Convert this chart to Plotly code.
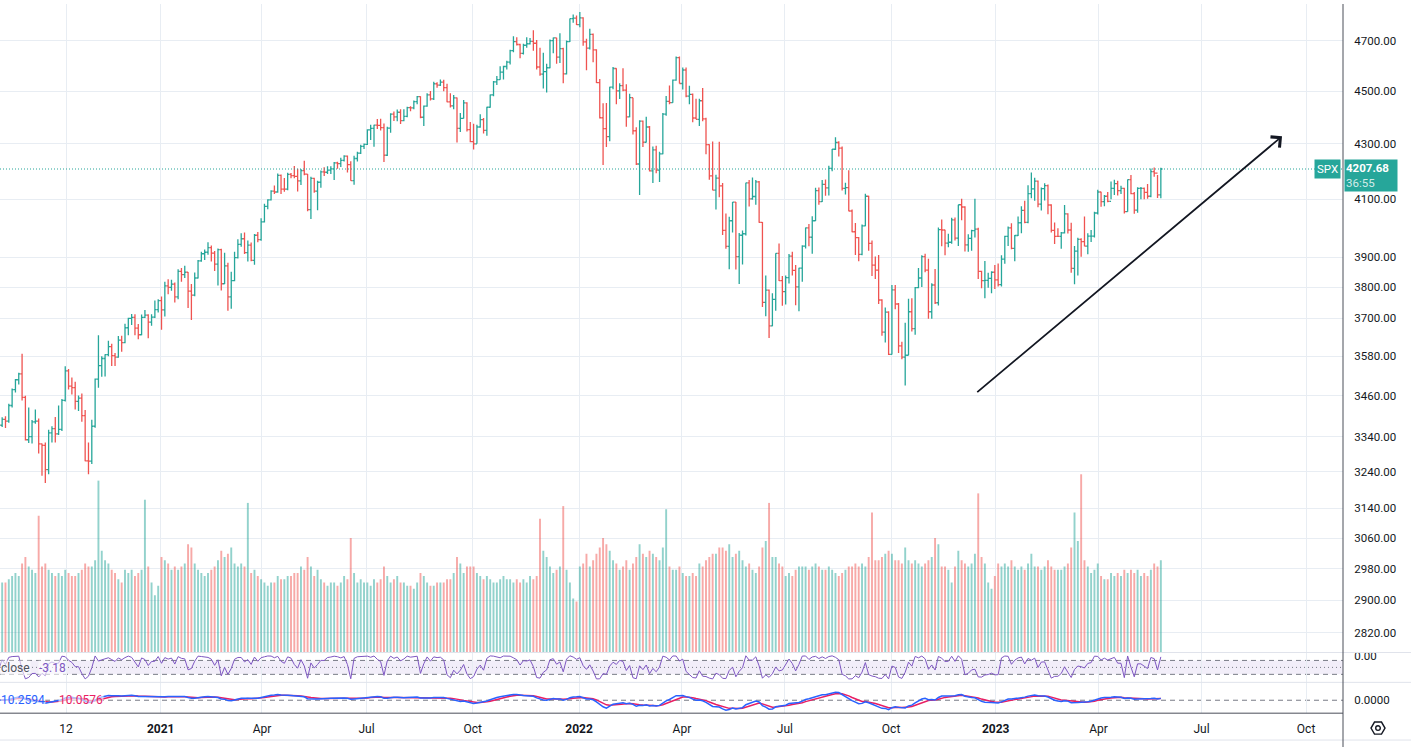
import math
import numpy as np
import pandas as pd
import plotly.graph_objects as go

W, H = 1411, 747

# ---------------- data: S&P 500 (SPX), 2-trading-day OHLC bars, Aug 13 2020 -> May 26 2023 ----------------
bar_open = [
    3380, 3373, 3390, 3385, 3431, 3478, 3508, 3526, 3455, 3331,
    3340, 3383, 3385, 3319, 3315, 3246, 3351, 3363, 3348, 3361,
    3446, 3535, 3489, 3484, 3443, 3453, 3401, 3271, 3270, 3370,
    3510, 3551, 3573, 3585, 3610, 3582, 3577, 3630, 3622, 3669,
    3699, 3702, 3668, 3647, 3702, 3709, 3687, 3703, 3727, 3756,
    3726, 3804, 3799, 3810, 3768, 3852, 3841, 3849, 3787, 3774,
    3830, 3887, 3911, 3916, 3932, 3913, 3876, 3925, 3811, 3870,
    3768, 3821, 3898, 3943, 3962, 3915, 3940, 3889, 3974, 3959,
    4020, 4074, 4097, 4128, 4125, 4185, 4135, 4135, 4188, 4184,
    4181, 4165, 4202, 4189, 4063, 4174, 4128, 4160, 4197, 4196,
    4204, 4208, 4230, 4227, 4239, 4255, 4224, 4166, 4246, 4266,
    4291, 4298, 4352, 4358, 4370, 4369, 4361, 4258, 4359, 4412,
    4401, 4419, 4387, 4403, 4437, 4436, 4460, 4479, 4400, 4442,
    4486, 4470, 4529, 4524, 4535, 4514, 4459, 4443, 4474, 4358,
    4396, 4455, 4353, 4308, 4300, 4363, 4391, 4350, 4438, 4486,
    4536, 4545, 4575, 4597, 4614, 4660, 4697, 4685, 4649, 4682,
    4688, 4698, 4690, 4595, 4567, 4577, 4592, 4701, 4712, 4634,
    4668, 4568, 4697, 4791, 4793, 4766, 4794, 4696, 4670, 4726,
    4663, 4533, 4398, 4357, 4327, 4516, 4589, 4501, 4522, 4504,
    4401, 4475, 4349, 4226, 4385, 4306, 4363, 4201, 4278, 4204,
    4263, 4412, 4461, 4456, 4543, 4632, 4530, 4583, 4481, 4488,
    4397, 4392, 4463, 4394, 4297, 4183, 4132, 4175, 4147, 3991,
    3936, 4024, 4089, 3901, 3974, 3979, 4158, 4101, 4109, 4161,
    4018, 3750, 3790, 3675, 3760, 3912, 3821, 3785, 3831, 3903,
    3855, 3801, 3863, 3937, 3999, 3967, 4024, 4130, 4091, 4152,
    4140, 4210, 4280, 4305, 4284, 4138, 4141, 4058, 3986, 3966,
    3909, 4006, 4110, 3946, 3873, 3856, 3758, 3655, 3719, 3586,
    3791, 3745, 3612, 3577, 3583, 3720, 3666, 3798, 3830, 3901,
    3856, 3720, 3807, 3749, 3993, 3992, 3947, 3950, 4027, 3964,
    4080, 4072, 3941, 3963, 3990, 3995, 3852, 3821, 3822, 3829,
    3849, 3824, 3808, 3893, 3970, 3999, 3929, 3973, 4017, 4060,
    4018, 4119, 4136, 4164, 4082, 4137, 4148, 4079, 3991, 3970,
    3970, 3982, 4048, 3992, 3862, 3920, 3960, 3952, 3937, 3971,
    3971, 4051, 4125, 4091, 4110, 4092, 4138, 4155, 4130, 4138,
    4056, 4169, 4119, 4061, 4138, 4138, 4124, 4110, 4198, 4193,
    4115,
]
bar_high = [
    3388, 3396, 3399, 3436, 3482, 3510, 3529, 3588, 3460, 3425,
    3388, 3419, 3393, 3320, 3323, 3360, 3370, 3397, 3431, 3450,
    3549, 3541, 3515, 3502, 3461, 3467, 3418, 3323, 3389, 3512,
    3645, 3580, 3586, 3628, 3619, 3590, 3643, 3644, 3682, 3701,
    3713, 3712, 3681, 3711, 3726, 3712, 3712, 3756, 3760, 3769,
    3818, 3826, 3824, 3815, 3859, 3863, 3871, 3850, 3810, 3848,
    3890, 3918, 3925, 3950, 3939, 3920, 3929, 3928, 3914, 3881,
    3851, 3918, 3960, 3981, 3983, 3956, 3949, 3978, 3985, 4033,
    4083, 4099, 4131, 4148, 4191, 4188, 4175, 4194, 4193, 4219,
    4209, 4208, 4238, 4190, 4180, 4176, 4165, 4202, 4214, 4218,
    4218, 4233, 4234, 4249, 4258, 4257, 4236, 4256, 4271, 4297,
    4301, 4355, 4372, 4372, 4393, 4394, 4376, 4364, 4415, 4422,
    4429, 4430, 4430, 4440, 4442, 4464, 4481, 4480, 4445, 4492,
    4501, 4537, 4535, 4546, 4545, 4529, 4492, 4485, 4476, 4416,
    4466, 4457, 4382, 4375, 4372, 4411, 4397, 4440, 4487, 4540,
    4559, 4598, 4600, 4620, 4664, 4718, 4714, 4688, 4688, 4714,
    4711, 4743, 4703, 4672, 4652, 4608, 4705, 4713, 4712, 4731,
    4672, 4701, 4791, 4808, 4804, 4818, 4797, 4708, 4749, 4730,
    4666, 4548, 4453, 4454, 4517, 4595, 4590, 4531, 4590, 4527,
    4490, 4475, 4362, 4389, 4388, 4402, 4367, 4290, 4293, 4271,
    4416, 4481, 4522, 4546, 4637, 4637, 4593, 4593, 4521, 4491,
    4471, 4471, 4512, 4398, 4299, 4309, 4187, 4308, 4157, 4049,
    4038, 4090, 4090, 3982, 3990, 4158, 4168, 4177, 4168, 4164,
    4020, 3838, 3792, 3780, 3913, 3946, 3837, 3838, 3910, 3918,
    3873, 3864, 3940, 4001, 4013, 4040, 4140, 4141, 4168, 4170,
    4220, 4281, 4325, 4310, 4290, 4158, 4203, 4063, 4016, 3968,
    4011, 4119, 4112, 3956, 3902, 3907, 3760, 3734, 3722, 3807,
    3807, 3748, 3625, 3685, 3762, 3764, 3800, 3863, 3906, 3911,
    3894, 3813, 3860, 4001, 4028, 3993, 3979, 4034, 4035, 4080,
    4101, 4075, 3977, 3993, 4101, 4000, 3854, 3887, 3847, 3852,
    3873, 3878, 3906, 3972, 4004, 4015, 3975, 4039, 4075, 4094,
    4149, 4195, 4176, 4166, 4141, 4156, 4152, 4082, 4018, 3998,
    3985, 4079, 4050, 4017, 3937, 3965, 3964, 4039, 3981, 3992,
    4055, 4133, 4126, 4114, 4125, 4163, 4169, 4165, 4147, 4140,
    4170, 4186, 4125, 4142, 4143, 4141, 4154, 4210, 4213, 4186,
    4212,
]
bar_low = [
    3362, 3368, 3365, 3380, 3425, 3470, 3494, 3446, 3329, 3322,
    3320, 3377, 3292, 3229, 3209, 3233, 3323, 3323, 3345, 3356,
    3443, 3479, 3464, 3419, 3415, 3383, 3270, 3233, 3262, 3366,
    3484, 3517, 3518, 3580, 3550, 3550, 3575, 3594, 3620, 3645,
    3678, 3645, 3633, 3645, 3700, 3636, 3675, 3700, 3718, 3663,
    3705, 3777, 3788, 3750, 3760, 3818, 3830, 3732, 3694, 3770,
    3828, 3884, 3890, 3908, 3885, 3853, 3805, 3789, 3810, 3723,
    3730, 3819, 3895, 3935, 3910, 3885, 3886, 3874, 3950, 3955,
    4018, 4064, 4095, 4118, 4122, 4118, 4126, 4131, 4174, 4174,
    4127, 4150, 4185, 4057, 4030, 4122, 4061, 4140, 4182, 4190,
    4190, 4168, 4209, 4215, 4235, 4195, 4165, 4151, 4235, 4263,
    4281, 4296, 4314, 4289, 4356, 4350, 4233, 4255, 4341, 4386,
    4385, 4374, 4385, 4400, 4423, 4430, 4450, 4396, 4367, 4440,
    4464, 4466, 4513, 4520, 4500, 4457, 4437, 4430, 4305, 4344,
    4395, 4346, 4306, 4279, 4300, 4360, 4339, 4330, 4436, 4480,
    4524, 4545, 4546, 4585, 4605, 4654, 4681, 4630, 4645, 4672,
    4685, 4660, 4585, 4560, 4510, 4495, 4590, 4650, 4608, 4611,
    4531, 4565, 4695, 4774, 4765, 4755, 4680, 4582, 4665, 4614,
    4532, 4395, 4222, 4288, 4310, 4508, 4450, 4470, 4500, 4364,
    4400, 4335, 4222, 4114, 4288, 4305, 4199, 4157, 4192, 4161,
    4262, 4406, 4450, 4455, 4541, 4530, 4507, 4477, 4450, 4381,
    4392, 4367, 4385, 4262, 4169, 4131, 4063, 4106, 3975, 3928,
    3859, 3983, 3858, 3810, 3875, 3973, 4074, 4098, 4080, 4017,
    3735, 3706, 3637, 3674, 3723, 3820, 3739, 3743, 3812, 3838,
    3741, 3722, 3818, 3929, 3936, 3911, 4023, 4080, 4090, 4112,
    4113, 4200, 4277, 4253, 4130, 4116, 4057, 3984, 3907, 3886,
    3906, 4005, 3921, 3837, 3827, 3745, 3644, 3623, 3584, 3585,
    3728, 3590, 3571, 3491, 3583, 3657, 3647, 3796, 3800, 3849,
    3698, 3698, 3745, 3740, 3936, 3906, 3933, 3945, 3956, 3937,
    4026, 3919, 3918, 3921, 3966, 3827, 3796, 3764, 3798, 3780,
    3794, 3802, 3802, 3877, 3937, 3926, 3886, 3971, 3981, 4015,
    4015, 4103, 4094, 4071, 4060, 4095, 4047, 3983, 3944, 3968,
    3928, 3980, 3980, 3847, 3809, 3838, 3901, 3936, 3909, 3951,
    3966, 4046, 4073, 4075, 4089, 4099, 4114, 4113, 4118, 4049,
    4055, 4117, 4048, 4052, 4099, 4099, 4101, 4106, 4180, 4104,
    4103,
]
bar_close = [
    3373, 3390, 3385, 3431, 3478, 3508, 3526, 3455, 3331, 3340,
    3383, 3385, 3319, 3315, 3246, 3351, 3363, 3348, 3361, 3446,
    3535, 3489, 3484, 3443, 3453, 3401, 3271, 3270, 3370, 3510,
    3551, 3573, 3585, 3610, 3582, 3577, 3630, 3622, 3669, 3699,
    3702, 3668, 3647, 3702, 3709, 3687, 3703, 3727, 3756, 3726,
    3804, 3799, 3810, 3768, 3852, 3841, 3849, 3787, 3774, 3830,
    3887, 3911, 3916, 3932, 3913, 3876, 3925, 3811, 3870, 3768,
    3821, 3898, 3943, 3962, 3915, 3940, 3889, 3974, 3959, 4020,
    4074, 4097, 4128, 4125, 4185, 4135, 4135, 4188, 4184, 4181,
    4165, 4202, 4189, 4063, 4174, 4128, 4160, 4197, 4196, 4204,
    4208, 4230, 4227, 4239, 4255, 4224, 4166, 4246, 4266, 4291,
    4298, 4352, 4358, 4370, 4369, 4361, 4258, 4359, 4412, 4401,
    4419, 4387, 4403, 4437, 4436, 4460, 4479, 4400, 4442, 4486,
    4470, 4529, 4524, 4535, 4514, 4459, 4443, 4474, 4358, 4396,
    4455, 4353, 4308, 4300, 4363, 4391, 4350, 4438, 4486, 4536,
    4545, 4575, 4597, 4614, 4660, 4697, 4685, 4649, 4682, 4688,
    4698, 4690, 4595, 4567, 4577, 4592, 4701, 4712, 4634, 4668,
    4568, 4697, 4791, 4793, 4766, 4794, 4696, 4670, 4726, 4663,
    4533, 4398, 4357, 4327, 4516, 4589, 4501, 4522, 4504, 4401,
    4475, 4349, 4226, 4385, 4306, 4363, 4201, 4278, 4204, 4263,
    4412, 4461, 4456, 4543, 4632, 4530, 4583, 4481, 4488, 4397,
    4392, 4463, 4394, 4297, 4183, 4132, 4175, 4147, 3991, 3936,
    4024, 4089, 3901, 3974, 3979, 4158, 4101, 4109, 4161, 4018,
    3750, 3790, 3675, 3760, 3912, 3821, 3785, 3831, 3903, 3855,
    3801, 3863, 3937, 3999, 3967, 4024, 4130, 4091, 4152, 4140,
    4210, 4280, 4305, 4284, 4138, 4141, 4058, 3986, 3966, 3909,
    4006, 4110, 3946, 3873, 3856, 3758, 3655, 3719, 3586, 3791,
    3745, 3612, 3577, 3583, 3720, 3666, 3798, 3830, 3901, 3856,
    3720, 3807, 3749, 3993, 3992, 3947, 3950, 4027, 3964, 4080,
    4072, 3941, 3963, 3990, 3995, 3852, 3821, 3822, 3829, 3849,
    3824, 3808, 3893, 3970, 3999, 3929, 3973, 4017, 4060, 4018,
    4119, 4136, 4164, 4082, 4137, 4148, 4079, 3991, 3970, 3970,
    3982, 4048, 3992, 3862, 3920, 3960, 3952, 3937, 3971, 3971,
    4051, 4125, 4091, 4110, 4092, 4138, 4155, 4130, 4138, 4056,
    4169, 4119, 4061, 4138, 4138, 4124, 4110, 4198, 4193, 4115,
    4207.68,
]
# volume per bar (hundreds of millions of shares)
bar_volume = [
    23, 22, 22, 23, 24, 25, 24, 28, 30, 27, 26, 25, 43,
    27, 28, 26, 25, 24, 25, 24, 26, 25, 24, 24, 25, 26, 28, 27,
    27, 29, 54, 32, 29, 28, 26, 25, 23, 22,
    26, 25, 26, 24, 25, 26, 48, 27, 22, 18, 21,
    30, 29, 28, 26, 27, 26, 27, 28, 34, 33,
    28, 26, 25, 24, 25, 26, 27, 29, 32,
    30, 31, 33, 28, 27, 28, 27, 47, 25, 26, 24,
    23, 22, 21, 22, 22, 24, 23, 23, 24, 24, 25,
    25, 27, 26, 30, 27, 24, 26, 23, 22, 21,
    22, 22, 21, 22, 24, 23, 36, 25, 22, 23, 22,
    22, 21, 23, 22, 23, 27, 24, 22, 23, 24, 22,
    22, 21, 21, 20, 22, 25, 24, 22, 21, 21, 22,
    22, 22, 23, 23, 25, 30, 28, 25, 27, 27,
    27, 25, 24, 23, 24, 23, 22, 22, 23, 24, 23,
    23, 22, 23, 22, 23, 22, 24, 23, 24, 42,
    32, 30, 27, 25, 26, 27, 46, 26, 22, 17, 16,
    27, 28, 31, 27, 29, 31, 33, 36, 34, 32,
    29, 28, 26, 27, 29, 26, 28, 30, 34,
    31, 30, 32, 31, 30, 29, 33, 45, 27, 26, 26, 27,
    25, 24, 24, 25, 24, 28, 27, 29, 30, 31,
    31, 33, 33, 32, 34, 30, 31, 32, 29, 27, 28,
    26, 25, 27, 33, 35, 47, 30, 30, 28, 27,
    24, 25, 24, 26, 27, 27, 27, 26, 27, 28,
    27, 26, 26, 27, 26, 25, 24, 25, 26, 27, 27, 28,
    27, 28, 27, 30, 44, 29, 29, 30, 31, 32,
    31, 29, 29, 28, 33, 29, 28, 29, 28, 27, 28,
    29, 30, 36, 34, 27, 27, 26, 22, 27, 32,
    29, 28, 27, 28, 31, 50, 30, 28, 22, 20, 24,
    28, 27, 28, 27, 29, 27, 26, 27, 26, 28,
    31, 27, 27, 26, 27, 29, 27, 26, 26,
    26, 27, 28, 33, 44, 35, 56, 29, 27, 25, 26, 28,
    24, 23, 23, 25, 24, 25, 24, 26, 25,
    26, 25, 26, 24, 25, 24, 26, 28, 27, 29,
]
days_per_bar = 2

# axis ticks / labels
price_ticks = [4700, 4500, 4300, 4100, 3900, 3800, 3700, 3580, 3460, 3340,
               3240, 3140, 3060, 2980, 2900, 2820]
time_tick_day = [41, 98, 159, 222, 286, 350, 412, 474, 538, 601, 663, 725, 788]
time_tick_text = ["12", "<b>2021</b>", "Apr", "Jul", "Oct", "<b>2022</b>", "Apr",
                  "Jul", "Oct", "<b>2023</b>", "Apr", "Jul", "Oct"]

last_price = 4207.68
last_price_text = "4207.68"
countdown_text = "36:55"
wr_legend_value = "-3.18"
macd_legend_value = "10.2594"
signal_legend_value = "10.0576"

# trend arrow drawing (trading-day index, price)
arrow_start = (589.0, 3467.0)
arrow_end = (773.5, 4328.0)

# ---------------- derived series ----------------
n = len(bar_close)
bar_x = np.arange(n) * days_per_bar + 0.5
c = pd.Series(bar_close, dtype=float)
hi = pd.Series(bar_high, dtype=float)
lo = pd.Series(bar_low, dtype=float)

look = 7
hh = hi.rolling(look, min_periods=1).max()
ll = lo.rolling(look, min_periods=1).min()
willr = (hh - c) / (hh - ll) * -100.0

ema_fast = c.ewm(span=6, adjust=False).mean()
ema_slow = c.ewm(span=13, adjust=False).mean()
macd = ema_fast - ema_slow
signal = macd.ewm(span=5, adjust=False).mean()

UP = "#26a69a"
DN = "#ef5350"
vol_colors = ["rgba(38,166,154,0.5)" if cc >= oo else "rgba(239,83,80,0.5)"
              for cc, oo in zip(bar_close, bar_open)]

# ---------------- geometry helpers ----------------
def fx(px):
    return px / W


def fy(py):
    return 1 - py / H


AXIS_X = 1343
X_RANGE = [1.2, 1.2 + AXIS_X / 1.66]
MAIN_TOP, MAIN_BOT = 0, 652
WR_BOT = 682
MACD_BOT = 713
GRID = "#e8edf3"
TXT = "#131722"
FONT = "Roboto"

# price axis (log) so that 4700 sits at y=37 px, ~1165 px per ln-unit
k_ln = 1165.0
p_top = 4700 * math.exp(37 / k_ln)
p_bot = 4700 * math.exp(-(MAIN_BOT - 37) / k_ln)

vol_per_px = 1 / 3.2
vol_range = [0, (MAIN_BOT - MAIN_TOP) * vol_per_px]

wr_zero_px = 655.3
wr_px_per_unit = 14 / 60
wr_range = [-(WR_BOT - wr_zero_px) / wr_px_per_unit, (wr_zero_px - MAIN_BOT) / wr_px_per_unit]

macd_zero_px = 700
m_hi = float(max(macd.max(), signal.max()))
m_lo = float(min(macd.min(), signal.min()))
s = min(13.0 / m_hi, 10.0 / abs(m_lo))
macd_range = [-(MACD_BOT - macd_zero_px) / s, (macd_zero_px - WR_BOT) / s]

fig = go.Figure()

fig.add_trace(go.Bar(x=bar_x, y=bar_volume, width=1.15, marker_color=vol_colors,
                     marker_line_width=0, yaxis="y", hoverinfo="skip"))
fig.add_trace(go.Ohlc(x=bar_x, open=bar_open, high=bar_high, low=bar_low, close=bar_close,
                      increasing_line_color=UP, decreasing_line_color=DN,
                      line_width=1.3, tickwidth=0.5, yaxis="y2", hoverinfo="skip"))
fig.add_trace(go.Scatter(x=bar_x, y=willr, mode="lines", line=dict(color="#7e57c2", width=1),
                         yaxis="y3", hoverinfo="skip"))
fig.add_trace(go.Scatter(x=bar_x, y=signal, mode="lines", line=dict(color="#e91e63", width=1.5),
                         yaxis="y4", hoverinfo="skip"))
fig.add_trace(go.Scatter(x=bar_x, y=macd, mode="lines", line=dict(color="#2962ff", width=1.5),
                         yaxis="y4", hoverinfo="skip"))

tickfont = dict(family=FONT, size=11.5, color=TXT)

fig.update_layout(
    width=W, height=H, margin=dict(l=0, r=0, t=0, b=0),
    paper_bgcolor="white", plot_bgcolor="white",
    showlegend=False, hovermode=False,
    xaxis=dict(domain=[0, fx(AXIS_X)], range=X_RANGE, anchor="y4",
               tickmode="array", tickvals=time_tick_day, ticktext=time_tick_text,
               showgrid=True, gridcolor=GRID, gridwidth=1, zeroline=False,
               showline=False, ticks="outside", ticklen=4, tickcolor="rgba(0,0,0,0)",
               tickfont=dict(family=FONT, size=12, color=TXT),
               rangeslider=dict(visible=False)),
    yaxis=dict(domain=[fy(MAIN_BOT), fy(MAIN_TOP)], range=vol_range, visible=False,
               showgrid=False, zeroline=False, fixedrange=True),
    yaxis2=dict(overlaying="y", type="log", anchor="x", side="right",
                range=[math.log10(p_bot), math.log10(p_top)],
                tickmode="array", tickvals=price_ticks,
                ticktext=[f"{v:.2f}" for v in price_ticks],
                showgrid=True, gridcolor=GRID, gridwidth=1, zeroline=False, showline=False,
                ticks="outside", ticklen=8, tickcolor="rgba(0,0,0,0)", tickfont=tickfont),
    yaxis3=dict(domain=[fy(WR_BOT), fy(MAIN_BOT)], range=wr_range, anchor="x", side="right",
                tickmode="array", tickvals=[0], ticktext=["0.00"], showgrid=False,
                zeroline=False, showline=False, ticks="outside", ticklen=8,
                tickcolor="rgba(0,0,0,0)", tickfont=tickfont),
    yaxis4=dict(domain=[fy(MACD_BOT), fy(WR_BOT)], range=macd_range, anchor="x", side="right",
                tickmode="array", tickvals=[0], ticktext=["0.0000"], showgrid=False,
                zeroline=False, showline=False, ticks="outside", ticklen=8,
                tickcolor="rgba(0,0,0,0)", tickfont=tickfont),
)

shapes = []
# Williams %R band and levels
shapes.append(dict(type="rect", xref="paper", yref="y3", x0=0, x1=fx(AXIS_X), y0=-80, y1=-20,
                   fillcolor="rgba(126,87,194,0.1)", line=dict(width=0), layer="below"))
for lvl, dash in ((-20, "5px,4px"), (-80, "5px,4px"), (-50, "1px,3px")):
    shapes.append(dict(type="line", xref="paper", yref="y3", x0=0, x1=fx(AXIS_X), y0=lvl, y1=lvl,
                       line=dict(color="#787b86", width=1, dash=dash), layer="below"))
# MACD zero line
shapes.append(dict(type="line", xref="paper", yref="y4", x0=0, x1=fx(AXIS_X), y0=0, y1=0,
                   line=dict(color="#787b86", width=1, dash="5px,4px"), layer="below"))
# last price dotted line
shapes.append(dict(type="line", xref="paper", yref="y2", x0=0, x1=fx(AXIS_X),
                   y0=last_price, y1=last_price,
                   line=dict(color=UP, width=1.2, dash="1px,2px"), layer="above"))
# pane separators
for py in (MAIN_BOT, WR_BOT):
    shapes.append(dict(type="line", xref="paper", yref="paper", x0=0, x1=1, y0=fy(py), y1=fy(py),
                       line=dict(color="#e0e3eb", width=1), layer="above"))
# bottom light line
shapes.append(dict(type="line", xref="paper", yref="paper", x0=0, x1=1, y0=fy(740), y1=fy(740),
                   line=dict(color="#e0e3eb", width=1), layer="above"))
# dark frame lines: time axis top & price axis left
shapes.append(dict(type="line", xref="paper", yref="paper", x0=0, x1=fx(AXIS_X),
                   y0=fy(MACD_BOT), y1=fy(MACD_BOT), line=dict(color="#4a4e59", width=1),
                   layer="above"))
shapes.append(dict(type="line", xref="paper", yref="paper", x0=fx(AXIS_X), x1=fx(AXIS_X),
                   y0=0, y1=1, line=dict(color="#4a4e59", width=1), layer="above"))
# settings (gear) icon at the bottom-right corner
cx, cy, r = 1378, 728, 7
pts = [(cx + r * math.cos(math.radians(a)), cy + r * math.sin(math.radians(a)))
       for a in range(0, 360, 60)]
path = "M " + " L ".join(f"{fx(px):.5f},{fy(py):.5f}" for px, py in pts) + " Z"
shapes.append(dict(type="path", xref="paper", yref="paper", path=path,
                   line=dict(color=TXT, width=1.4)))
shapes.append(dict(type="circle", xref="paper", yref="paper",
                   x0=fx(cx - 2.3), x1=fx(cx + 2.3), y0=fy(cy + 2.3), y1=fy(cy - 2.3),
                   line=dict(color=TXT, width=1.4)))
fig.update_layout(shapes=shapes)

ann = []
# trend arrow
ann.append(dict(xref="x", yref="y2", axref="x", ayref="y2",
                x=arrow_end[0], y=math.log10(arrow_end[1]),
                ax=arrow_start[0], ay=math.log10(arrow_start[1]),
                text="", showarrow=True, arrowhead=4, arrowsize=1.5, arrowwidth=1.8,
                arrowcolor="#131722"))
# last price labels
ann.append(dict(xref="paper", yref="paper", x=fx(AXIS_X - 2), y=fy(165.5),
                xanchor="right", yanchor="middle", text="SPX", showarrow=False,
                font=dict(family=FONT, size=11.5, color="white"),
                bgcolor=UP, borderpad=2))
ann.append(dict(xref="paper", yref="paper", x=fx(AXIS_X + 0.5), y=fy(172),
                xanchor="left", yanchor="middle", align="left", width=50,
                text=f"<b>{last_price_text}</b><br><span style='color:rgba(255,255,255,0.8)'>{countdown_text}</span>",
                showarrow=False, font=dict(family=FONT, size=11.5, color="white"),
                bgcolor=UP, borderpad=1))
# indicator legends
leg_bg = "rgba(255,255,255,0.6)"
ann.append(dict(xref="paper", yref="paper", x=fx(0), y=fy(668), xanchor="left",
                yanchor="middle", text="close", showarrow=False,
                font=dict(family=FONT, size=12, color="#50535e"), bgcolor=leg_bg, borderpad=0))
ann.append(dict(xref="paper", yref="paper", x=fx(38), y=fy(668), xanchor="left",
                yanchor="middle", text=wr_legend_value, showarrow=False,
                font=dict(family=FONT, size=12, color="#7e57c2"), bgcolor=leg_bg, borderpad=0))
ann.append(dict(xref="paper", yref="paper", x=fx(0), y=fy(700), xanchor="left",
                yanchor="middle", text=macd_legend_value, showarrow=False,
                font=dict(family=FONT, size=12, color="#2962ff"), bgcolor=leg_bg, borderpad=0))
ann.append(dict(xref="paper", yref="paper", x=fx(58), y=fy(700), xanchor="left",
                yanchor="middle", text=signal_legend_value, showarrow=False,
                font=dict(family=FONT, size=12, color="#e91e63"), bgcolor=leg_bg, borderpad=0))
fig.update_layout(annotations=ann)

fig.write_html("out.html")
